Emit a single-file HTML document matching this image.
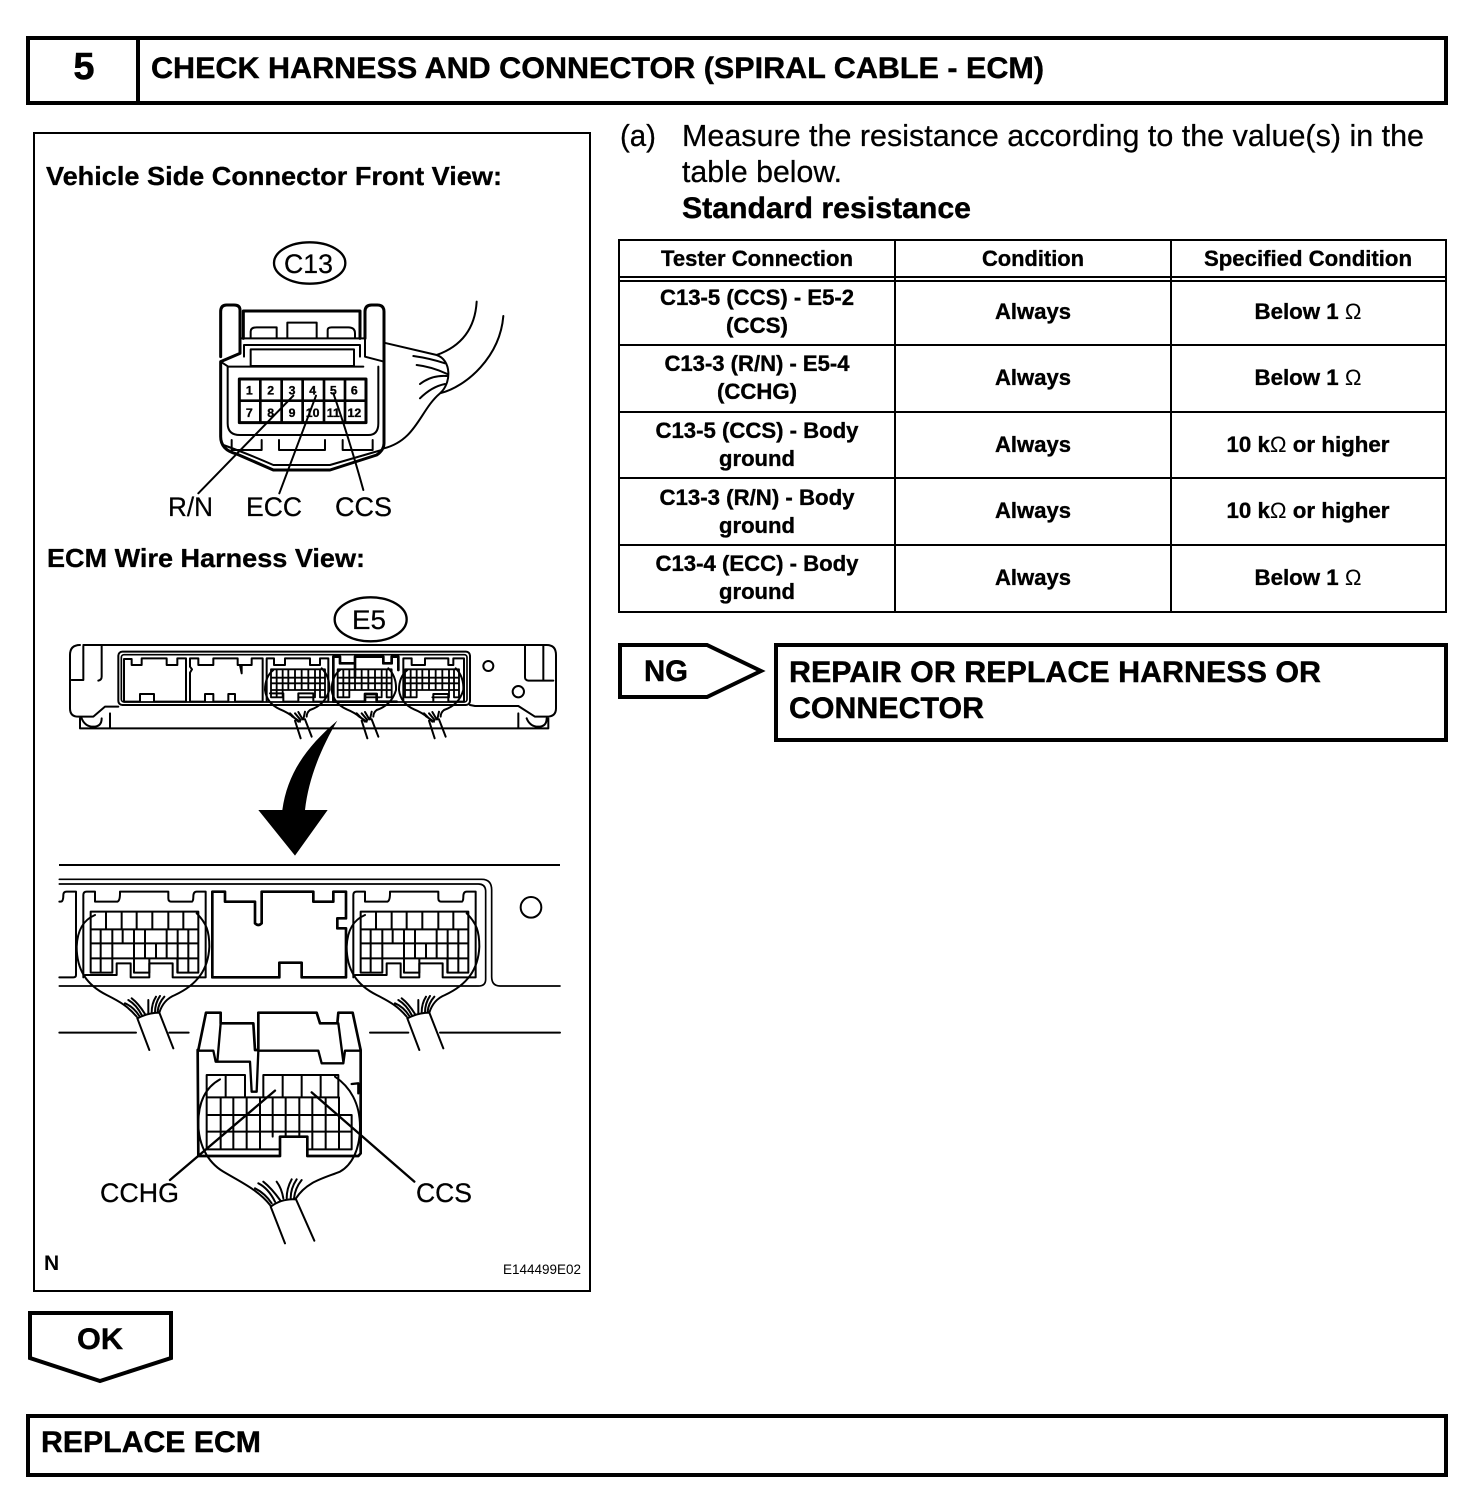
<!DOCTYPE html>
<html><head><meta charset="utf-8"><style>
html,body{margin:0;padding:0;background:#fff}
svg{display:block}
text{font-family:"Liberation Sans",sans-serif;fill:#000}
.b{font-weight:bold}
.t{font-weight:bold;font-size:22px;text-anchor:middle;stroke:#000;stroke-width:.35px}
.h{font-weight:bold;font-size:30px;stroke:#000;stroke-width:.4px}
.r{stroke:#000;stroke-width:.25px}
.l{fill:none;stroke:#000;stroke-linejoin:round;stroke-linecap:round}
</style></head><body>
<svg width="1472" height="1512" viewBox="0 0 1472 1512" xmlns="http://www.w3.org/2000/svg">
<rect width="1472" height="1512" fill="#fff"/>
<!-- Header -->
<rect x="28" y="38" width="1418" height="65" fill="none" stroke="#000" stroke-width="4"/>
<line x1="138" y1="38" x2="138" y2="103" stroke="#000" stroke-width="4"/>
<text x="84" y="79" class="b" font-size="38" text-anchor="middle" stroke="#000" stroke-width=".5">5</text>
<text x="151" y="78" class="h" textLength="893" lengthAdjust="spacingAndGlyphs">CHECK HARNESS AND CONNECTOR (SPIRAL CABLE - ECM)</text>
<!-- Diagram frame -->
<rect x="34" y="133" width="556" height="1158" fill="none" stroke="#000" stroke-width="2"/>
<text x="46" y="185" class="b" font-size="26" textLength="456" lengthAdjust="spacingAndGlyphs" stroke="#000" stroke-width=".3">Vehicle Side Connector Front View:</text>
<text x="47" y="567" class="b" font-size="26" textLength="318" lengthAdjust="spacingAndGlyphs" stroke="#000" stroke-width=".3">ECM Wire Harness View:</text>
<text x="44" y="1270" class="b" font-size="21">N</text>
<text x="503" y="1274" font-size="13.500" textLength="78" lengthAdjust="spacingAndGlyphs">E144499E02</text>

<!-- C13 connector -->
<g transform="translate(160,230) scale(.33333)">
<ellipse cx="449" cy="99" rx="107" ry="62" class="l" stroke-width="7"/>
<path class="l" stroke-width="9" d="M240,325V240Q240,225 222,225H200Q182,225 182,245V380M615,325V245Q615,225 635,225H652Q672,225 672,245V640Q672,660 650,675L510,720H340L230,672Q182,660 182,620V395L240,370V325M250,325V243H600V325"/>
<path class="l" stroke-width="6" d="M240,325H615V380L672,395M252,380V345H600V380M182,395L205,410H610M655,410V580Q655,615 625,615H240Q203,615 203,580V410M272,325V305Q272,292 290,292H350V325M382,325V278H470V325M503,325V300Q503,292 515,292H565Q585,292 585,310V325"/>
<rect x="272" y="358" width="310" height="50" class="l" stroke-width="6"/>
<path class="l" stroke-width="6" d="M215,630V660H305V630M357,630V660H495V630M548,630V660H638V630M190,645Q260,670 340,705H510L665,660"/>
<rect x="238" y="447" width="380" height="131" class="l" stroke-width="9"/>
<path class="l" stroke-width="8" d="M238,512H618M301,447V578M365,447V578M428,447V578M492,447V578M555,447V578"/>
<g class="b" font-size="37" text-anchor="middle" stroke="#000" stroke-width="1">
<text x="268" y="493">1</text><text x="332" y="493">2</text><text x="396" y="493">3</text><text x="458" y="493">4</text><text x="520" y="493">5</text><text x="583" y="493">6</text>
<text x="268" y="561">7</text><text x="332" y="561">8</text><text x="396" y="561">9</text><text x="458" y="561">10</text><text x="520" y="561">11</text><text x="583" y="561">12</text>
</g>
<path class="l" stroke-width="6" d="M400,497L115,790M468,497L358,790M520,490C555,590 585,690 610,780"/>
<path class="l" stroke-width="6" d="M672,338L830,375C900,350 945,300 950,215M1030,258C1020,380 920,470 840,490C780,540 770,630 672,655M830,375C875,390 875,460 840,490M760,378Q810,385 855,400M770,405Q815,410 862,432M780,462Q815,435 860,438M780,505Q815,470 855,462"/>
</g>

<!-- E5 ECM overview -->
<g transform="translate(50,590) scale(.33333)">
<ellipse cx="962" cy="88" rx="108" ry="66" class="l" stroke-width="7"/>
<path class="l" stroke-width="6" d="M100,165H1490Q1518,165 1518,195V355Q1518,380 1490,380H1455L1405,348H1275L1260,345M60,195Q60,165 90,165M60,195V355Q60,380 85,380H130L165,350H205M90,385V415H1495V385M180,370V415M1405,370V415M100,168V270H65M155,168V260Q155,270 145,272M1425,168V262Q1425,270 1435,272H1510M1480,168V270M95,385Q105,410 130,410Q155,410 155,385M1430,385Q1440,410 1465,410Q1490,410 1490,385"/>
<rect x="205" y="185" width="1055" height="160" rx="12" class="l" stroke-width="6"/>
<rect x="214" y="194" width="1037" height="142" rx="8" class="l" stroke-width="5"/>
<path class="l" stroke-width="6" d="M222,335V207H245V225H275V205H350V225H382V205H408V335H312V312H270V335ZM420,335V248L426,238L420,230V205H445V225H490V205H563V225H575V250L570,225H605V205H638V335H555V312H535V335H490V312H465V335Z"/>
<path class="l" stroke-width="6" d="M650,335V205H672V225H705V205H780V225H810V205H835V335H790V310H745V335H700V310H660"/>
<path class="l" stroke-width="8" d="M850,335V200H870V220H915V262M915,220V200H1000V220H1025V200H1045V240M850,335H945V312H980V335H1040"/>
<path class="l" stroke-width="6" d="M1060,335V205H1085V225H1125V205H1195V225H1210V205H1242V335H1195V312H1150V335"/>
<path class="l" stroke-width="6" d="M1315,228m-15,0a15,15 0 1,0 30,0a15,15 0 1,0 -30,0M1405,305m-17,0a17,17 0 1,0 34,0a17,17 0 1,0 -34,0"/>
<g id="mg">
<path class="l" stroke-width="5.500" d="M663,238H825M663,263H825M663,280H825M663,300H825M663,322H698M745,322H790M810,322H825M663,238V322M680,238V322M698,238V322M715,238V300M735,238V300M755,238V300M775,238V300M795,238V322M810,238V322M825,238V322"/>
<path class="l" stroke-width="6" d="M670,240Q645,260 645,300Q650,340 690,358Q715,368 735,385M815,235Q840,260 838,300Q825,345 780,360Q770,368 770,380M720,370L745,395M725,378L750,395M735,370L752,390M745,366L758,388M765,365L760,388M735,392L752,445M765,388L785,440"/>
</g>
<use href="#mg" x="200"/>
<use href="#mg" x="402"/>
<path d="M862,392C770,470 712,550 697,660H625L735,797L833,660H765C775,570 810,480 862,392Z" fill="#000"/>
</g>
<line x1="59" y1="865" x2="560" y2="865" stroke="#000" stroke-width="2"/>

<!-- E5 detail -->
<g transform="translate(50,860) scale(.33333)">
<path class="l" stroke-width="5" d="M28,58H1295Q1325,58 1325,90V350Q1325,378 1350,378H1530M28,72H1285Q1307,72 1307,95V358Q1307,378 1285,378H28"/>
<path class="l" stroke-width="6" d="M28,125H32Q40,125 40,105Q40,95 50,95H78V345Q78,352 70,352H28"/>
<path class="l" stroke-width="6" d="M28,518H258M358,518H416M960,518H1075M1170,518H1530"/>
<path class="l" stroke-width="8" d="M487,352V95H525V125H615V190Q625,200 635,190V95H790V125H850V95H888V175H862V205H888V352H755V308H688V352Z"/>
<circle cx="1443" cy="142" r="31" class="l" stroke-width="6"/>
<g id="dc">
<path class="l" stroke-width="6" d="M100,352V105Q100,95 110,95H135V125H200Q210,125 210,100V95H355V115Q355,125 365,125H425Q430,125 430,110Q430,95 440,95H467V352H368V310H298V352H242V310H200V345H105"/>
<path class="l" stroke-width="6" d="M122,155H445V338H382V295H298V338H252V295H187V338H122ZM122,208H445M122,250H445M122,295H187M252,295H298M382,295H445M168,155V208M215,155V208M260,155V208M307,155V208M355,155V208M400,155V208M152,208V338M187,208V295M218,208V250M252,208V338M285,208V295M318,250V295M350,208V295M383,208V338M415,208V338"/>
<path class="l" stroke-width="6" d="M135,165C100,180 82,210 80,260C80,330 110,375 170,405C210,425 235,440 260,470M440,160C470,190 478,215 478,260C475,330 440,375 375,405C350,415 335,435 328,458M262,475Q295,458 328,458M262,475L298,570M328,458L370,565M225,430Q250,440 268,468M235,420Q260,435 275,465M245,415Q265,430 285,462M295,420Q295,440 295,460M318,410Q305,430 305,458M330,408Q315,430 315,458M343,410Q325,430 323,455"/>
</g>
<use href="#dc" x="810"/>
<!-- bottom connector -->
<path d="M445,570L468,458H512V490H610L615,570H625V458H800L810,490H862L865,458H908L932,570V880L925,888H772V830H690V888H445L443,570Z" fill="#fff" stroke="#000" stroke-width="8" stroke-linejoin="round"/>
<path class="l" stroke-width="7" d="M445,572H490L497,605H600L605,695H620L625,572H805L815,610H880L885,572H932M512,490L502,605M865,490L880,605M905,672L925,670V700"/>
<path class="l" stroke-width="6" d="M470,712V645H585V712M640,712V645H865V712M527,645V712M698,645V712M755,645V712M812,645V712M470,712H865M470,712V868H690M772,868H905V765M470,765H905M470,815H905M512,712V868M550,712V868M590,712V868M630,712V868M668,712V830M707,712V830M748,712V830M787,712V868M827,712V868M867,712V868"/>
<path class="l" stroke-width="6" d="M510,658C470,680 445,720 445,790C445,850 470,905 520,935C570,965 625,990 660,1035M855,650C900,680 930,730 930,800C930,870 905,915 870,935C820,955 770,965 738,1015M662,1040Q695,1015 738,1018M662,1040L705,1150M738,1018L793,1142M615,985Q645,1000 665,1030M625,970Q655,985 675,1025M640,965Q665,985 690,1020M680,965Q695,985 700,1015M725,958Q710,985 710,1015M740,958Q722,985 722,1015M755,960Q735,985 732,1015"/>
<path class="l" stroke-width="7" d="M360,960L675,692M785,697L1093,965"/>
</g>

<!-- Diagram labels -->
<g font-size="27" class="r" lengthAdjust="spacingAndGlyphs">
<text x="284" y="273" textLength="49" lengthAdjust="spacingAndGlyphs">C13</text>
<text x="168" y="516" textLength="45" lengthAdjust="spacingAndGlyphs">R/N</text>
<text x="246" y="516" textLength="56" lengthAdjust="spacingAndGlyphs">ECC</text>
<text x="335" y="516" textLength="57" lengthAdjust="spacingAndGlyphs">CCS</text>
<text x="352" y="629" textLength="34" lengthAdjust="spacingAndGlyphs">E5</text>
<text x="100" y="1202" textLength="79" lengthAdjust="spacingAndGlyphs">CCHG</text>
<text x="416" y="1202" textLength="56" lengthAdjust="spacingAndGlyphs">CCS</text>
</g>

<!-- Instructions -->
<g font-size="30.500" class="r">
<text x="620" y="146" textLength="36" lengthAdjust="spacingAndGlyphs">(a)</text>
<text x="682" y="146" textLength="742" lengthAdjust="spacingAndGlyphs">Measure the resistance according to the value(s) in the</text>
<text x="682" y="182" textLength="160" lengthAdjust="spacingAndGlyphs">table below.</text>
</g>
<text x="682" y="218" class="h" textLength="289" lengthAdjust="spacingAndGlyphs">Standard resistance</text>

<!-- Table -->
<g stroke="#000" stroke-width="2" fill="none">
<rect x="619" y="240" width="827" height="372"/>
<path d="M895,240V612M1171,240V612M619,277H1446M619,281H1446M619,345H1446M619,412H1446M619,478H1446M619,545H1446"/>
</g>
<text x="757" y="266" class="t" textLength="192" lengthAdjust="spacingAndGlyphs">Tester Connection</text>
<text x="1033" y="266" class="t" textLength="102" lengthAdjust="spacingAndGlyphs">Condition</text>
<text x="1308" y="266" class="t" textLength="208" lengthAdjust="spacingAndGlyphs">Specified Condition</text>

<text x="757" y="305" class="t" textLength="194" lengthAdjust="spacingAndGlyphs">C13-5 (CCS) - E5-2</text>
<text x="757" y="333" class="t" textLength="62" lengthAdjust="spacingAndGlyphs">(CCS)</text>
<text x="757" y="371" class="t" textLength="185" lengthAdjust="spacingAndGlyphs">C13-3 (R/N) - E5-4</text>
<text x="757" y="399" class="t" textLength="80" lengthAdjust="spacingAndGlyphs">(CCHG)</text>
<text x="757" y="438" class="t" textLength="203" lengthAdjust="spacingAndGlyphs">C13-5 (CCS) - Body</text>
<text x="757" y="466" class="t" textLength="76" lengthAdjust="spacingAndGlyphs">ground</text>
<text x="757" y="505" class="t" textLength="195" lengthAdjust="spacingAndGlyphs">C13-3 (R/N) - Body</text>
<text x="757" y="533" class="t" textLength="76" lengthAdjust="spacingAndGlyphs">ground</text>
<text x="757" y="571" class="t" textLength="203" lengthAdjust="spacingAndGlyphs">C13-4 (ECC) - Body</text>
<text x="757" y="599" class="t" textLength="76" lengthAdjust="spacingAndGlyphs">ground</text>

<text x="1033" y="319" class="t" textLength="76" lengthAdjust="spacingAndGlyphs">Always</text>
<text x="1033" y="385" class="t" textLength="76" lengthAdjust="spacingAndGlyphs">Always</text>
<text x="1033" y="452" class="t" textLength="76" lengthAdjust="spacingAndGlyphs">Always</text>
<text x="1033" y="518" class="t" textLength="76" lengthAdjust="spacingAndGlyphs">Always</text>
<text x="1033" y="585" class="t" textLength="76" lengthAdjust="spacingAndGlyphs">Always</text>

<text x="1308" y="319" class="t" textLength="107" lengthAdjust="spacingAndGlyphs">Below 1 <tspan font-weight="normal" stroke="none">Ω</tspan></text>
<text x="1308" y="385" class="t" textLength="107" lengthAdjust="spacingAndGlyphs">Below 1 <tspan font-weight="normal" stroke="none">Ω</tspan></text>
<text x="1308" y="452" class="t" textLength="163" lengthAdjust="spacingAndGlyphs">10 k<tspan font-weight="normal" stroke="none">Ω</tspan> or higher</text>
<text x="1308" y="518" class="t" textLength="163" lengthAdjust="spacingAndGlyphs">10 k<tspan font-weight="normal" stroke="none">Ω</tspan> or higher</text>
<text x="1308" y="585" class="t" textLength="107" lengthAdjust="spacingAndGlyphs">Below 1 <tspan font-weight="normal" stroke="none">Ω</tspan></text>

<!-- NG -->
<path d="M620,645H707L761,671L707,697H620Z" fill="none" stroke="#000" stroke-width="4" stroke-linejoin="miter"/>
<text x="644" y="681" class="h" font-size="29" textLength="44" lengthAdjust="spacingAndGlyphs">NG</text>
<rect x="776" y="645" width="670" height="95" fill="none" stroke="#000" stroke-width="4"/>
<text x="789" y="682" class="h" textLength="532" lengthAdjust="spacingAndGlyphs">REPAIR OR REPLACE HARNESS OR</text>
<text x="789" y="718" class="h" textLength="195" lengthAdjust="spacingAndGlyphs">CONNECTOR</text>

<!-- OK -->
<path d="M30,1313H171V1358L100,1381L30,1358Z" fill="none" stroke="#000" stroke-width="4"/>
<text x="77" y="1349" class="h" textLength="46" lengthAdjust="spacingAndGlyphs">OK</text>

<!-- Replace -->
<rect x="28" y="1416" width="1418" height="59" fill="none" stroke="#000" stroke-width="4"/>
<text x="41" y="1452" class="h" textLength="220" lengthAdjust="spacingAndGlyphs">REPLACE ECM</text>
</svg>
</body></html>
